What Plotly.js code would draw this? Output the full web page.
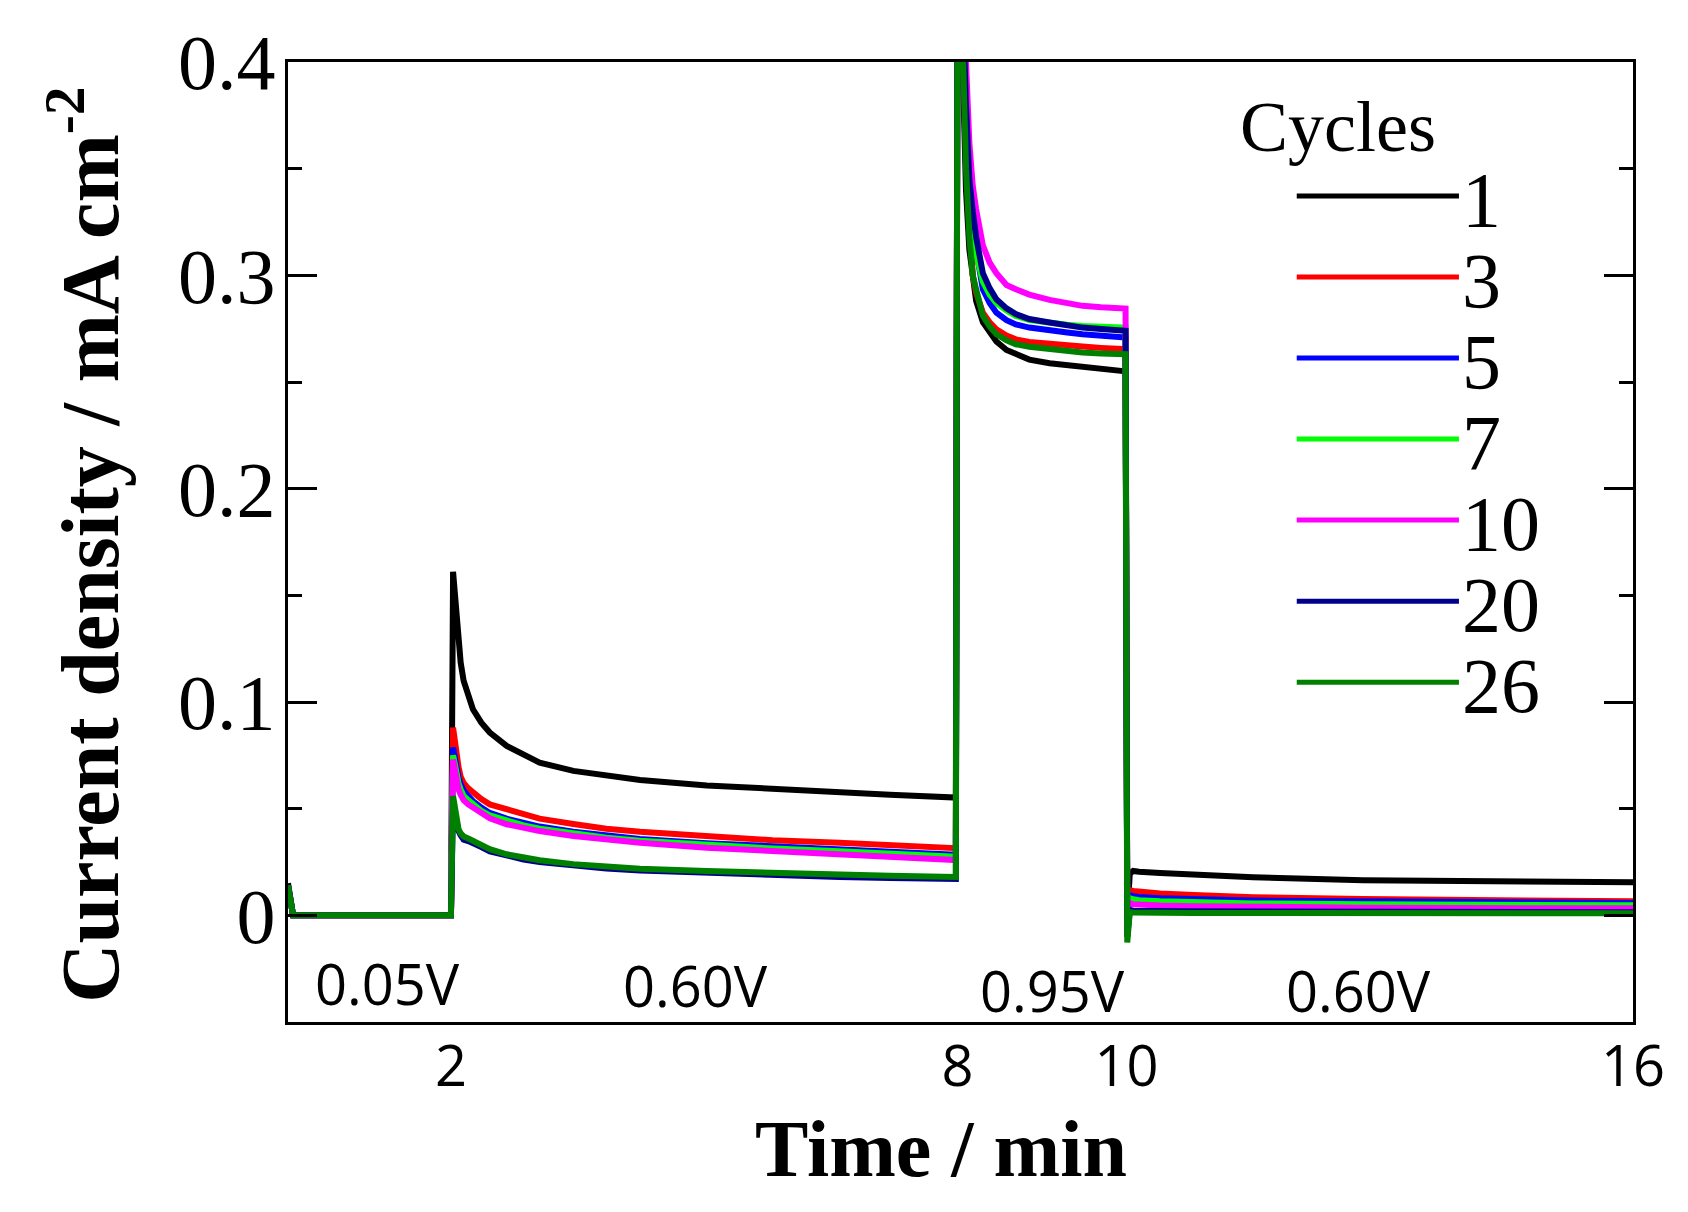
<!DOCTYPE html>
<html>
<head>
<meta charset="utf-8">
<script src="https://cdn.plot.ly/plotly-3.0.1.min.js"></script>
<style>
    html, body { margin: 0; padding: 0; background: #fff; }
    #chart { width: 1688px; height: 1212px; }
</style>
</head>
<body>
<div id="chart"></div>
<script>
// time axis shared by every cycle (min)
const timeMin = [
    0.07, 0.13, 1.0, 1.99,
    2.0, 2.025, 2.065, 2.09, 2.115, 2.15, 2.205, 2.26, 2.36, 2.46, 2.66, 2.86, 3.05, 3.45, 3.84, 4.24, 5.03, 5.81, 6.6, 7.2, 7.98,
    8.0, 8.06, 8.1, 8.14, 8.18, 8.22, 8.3, 8.38, 8.46, 8.58, 8.69, 8.85, 9.09, 9.3, 9.48, 9.7, 9.99,
    10.01, 10.04, 10.08, 10.15, 10.4, 10.8, 11.5, 12.8, 14.0, 15.0, 16.0
];

// current density per cycle (mA cm-2)
const j1 = [
    0.015, 0, 0, 0,
    0, 0.161, 0.140, 0.128, 0.1185, 0.110, 0.1028, 0.0966, 0.0903, 0.0857, 0.0794, 0.075, 0.0716, 0.0677, 0.0653, 0.0634, 0.0609, 0.0591, 0.0575, 0.0565, 0.0552,
    0.46, 0.40, 0.34, 0.312, 0.297, 0.288, 0.278, 0.273, 0.269, 0.265, 0.263, 0.2605, 0.2588, 0.2578, 0.2568, 0.2558, 0.255,
    0.0, 0.0195, 0.0208, 0.0204, 0.0198, 0.019, 0.0178, 0.0165, 0.016, 0.0157, 0.0155
];
const j3 = [
    0.014, 0, 0, 0,
    0, 0.088, 0.075, 0.0695, 0.065, 0.062, 0.0595, 0.0575, 0.0545, 0.052, 0.0497, 0.0473, 0.0453, 0.0428, 0.0406, 0.0392, 0.0372, 0.0352, 0.034, 0.033, 0.0315,
    0.46, 0.42, 0.36, 0.323, 0.30, 0.292, 0.2825, 0.278, 0.2747, 0.2718, 0.270, 0.2688, 0.2677, 0.267, 0.2666, 0.266, 0.2654,
    0.0, 0.0118, 0.0114, 0.011, 0.0102, 0.0095, 0.0085, 0.0076, 0.0071, 0.0068, 0.0066
];
const j5 = [
    0.014, 0, 0, 0,
    0, 0.0786, 0.068, 0.0645, 0.0615, 0.0585, 0.056, 0.0536, 0.0505, 0.048, 0.0453, 0.0432, 0.0416, 0.0392, 0.0372, 0.0358, 0.0338, 0.0322, 0.031, 0.0298, 0.0284,
    0.46, 0.43, 0.38, 0.345, 0.325, 0.312, 0.2935, 0.287, 0.2825, 0.279, 0.277, 0.2755, 0.274, 0.2732, 0.2724, 0.2716, 0.2708,
    0.0, 0.0095, 0.009, 0.0086, 0.008, 0.0075, 0.0069, 0.0066, 0.0062, 0.006, 0.0058
];
const j7 = [
    0.014, 0, 0, 0,
    0, 0.075, 0.066, 0.062, 0.059, 0.056, 0.054, 0.052, 0.049, 0.0468, 0.0442, 0.0422, 0.0406, 0.0383, 0.0364, 0.035, 0.033, 0.0313, 0.030, 0.029, 0.0275,
    0.46, 0.43, 0.38, 0.345, 0.322, 0.310, 0.297, 0.291, 0.287, 0.2835, 0.281, 0.279, 0.2775, 0.2768, 0.2762, 0.2758, 0.2755,
    0.0, 0.008, 0.0075, 0.0071, 0.0066, 0.0062, 0.0056, 0.0052, 0.0049, 0.0048, 0.0047
];
const j10 = [
    0.014, 0, 0, 0,
    0, 0.073, 0.063, 0.059, 0.0565, 0.054, 0.052, 0.0505, 0.0478, 0.0455, 0.0427, 0.041, 0.0395, 0.0372, 0.0353, 0.034, 0.0317, 0.0302, 0.029, 0.0278, 0.0259,
    0.46, 0.44, 0.40, 0.362, 0.342, 0.331, 0.314, 0.306, 0.301, 0.2955, 0.2935, 0.291, 0.2885, 0.287, 0.2857, 0.285, 0.2844,
    0.0, 0.0058, 0.0052, 0.005, 0.0046, 0.0043, 0.0039, 0.0036, 0.0034, 0.0033, 0.0033
];
const j20 = [
    0.014, 0, 0, 0,
    0, 0.052, 0.043, 0.0395, 0.0375, 0.0355, 0.0348, 0.034, 0.032, 0.030, 0.0278, 0.0262, 0.025, 0.0232, 0.022, 0.021, 0.0198, 0.0188, 0.018, 0.0175, 0.017,
    0.46, 0.43, 0.38, 0.345, 0.33, 0.318, 0.301, 0.294, 0.2888, 0.2845, 0.2818, 0.2795, 0.2779, 0.2765, 0.2755, 0.2748, 0.274,
    -0.01, 0.0025, 0.0022, 0.0021, 0.002, 0.0019, 0.0018, 0.0017, 0.0016, 0.0016, 0.0015
];
const j26 = [
    0.014, 0, 0, 0,
    0, 0.0559, 0.045, 0.0403, 0.0385, 0.037, 0.036, 0.0348, 0.033, 0.031, 0.0286, 0.027, 0.0258, 0.024, 0.0228, 0.0218, 0.0208, 0.0198, 0.019, 0.0185, 0.018,
    0.46, 0.41, 0.35, 0.318, 0.300, 0.2935, 0.281, 0.276, 0.2724, 0.2695, 0.2677, 0.2665, 0.2654, 0.2645, 0.2638, 0.2634, 0.263,
    -0.0127, 0.0015, 0.0013, 0.0012, 0.0012, 0.0011, 0.0011, 0.001, 0.001, 0.001, 0.001
];

const cycleLabels = ['1', '3', '5', '7', '10', '20', '26'];
const cycleCurrents = [j1, j3, j5, j7, j10, j20, j26];
const lineColors = ['#000000', '#ff0000', '#0000ff', '#00ff00', '#ff00ff', '#00008b', '#008000'];

// potential steps written under the curves
const stepLabels = ['0.05V', '0.60V', '0.95V', '0.60V'];
const stepLabelX = [1.25, 4.90, 9.13, 12.75];
const stepLabelY = [-0.0315, -0.0325, -0.035, -0.035];

const xTickVals = [2, 8, 10, 16];
const yTickVals = [0, 0.1, 0.2, 0.3, 0.4];

function plotChart() {
    let chartData = cycleCurrents.map((ys, i) => {
        return {
            mode: 'lines',
            x: timeMin,
            y: ys,
            name: cycleLabels[i],
            line: { color: lineColors[i], width: 6 },
            showlegend: false,
        };
    });

    // hand made legend: long sample lines plus labels
    let shapes = [];
    let annotations = [];
    const legendTop = 0.8604;
    const legendStep = 0.0844;
    cycleLabels.forEach((label, i) => {
        const yy = legendTop - i * legendStep;
        shapes.push({
            type: 'line', xref: 'paper', yref: 'paper',
            x0: 0.750, x1: 0.8706, y0: yy, y1: yy,
            line: { color: lineColors[i], width: 5 },
        });
        annotations.push({
            xref: 'paper', yref: 'paper', x: 0.8715, y: yy - 0.004,
            xanchor: 'left', yanchor: 'middle', showarrow: false,
            text: label,
            font: { family: 'Liberation Serif', size: 78, color: '#000' },
        });
    });

    annotations.push({
        xref: 'paper', yref: 'paper', x: 0.7065, y: 0.932,
        xanchor: 'left', yanchor: 'middle', showarrow: false,
        text: 'Cycles',
        font: { family: 'Liberation Serif', size: 72, color: '#000' },
    });

    stepLabels.forEach((label, i) => {
        annotations.push({
            xref: 'x', yref: 'y', x: stepLabelX[i], y: stepLabelY[i],
            xanchor: 'center', yanchor: 'middle', showarrow: false,
            text: label,
            font: { family: 'Open Sans', size: 56, color: '#000' },
        });
    });

    // axis titles as annotations so they sit where the original has them
    annotations.push({
        xref: 'paper', yref: 'paper', x: 0.4855, y: -0.1327,
        xanchor: 'center', yanchor: 'middle', showarrow: false,
        text: '<b>Time / min</b>',
        font: { family: 'Liberation Serif', size: 80, color: '#000' },
    });
    annotations.push({
        xref: 'paper', yref: 'paper', x: -0.151, y: 0.497,
        xanchor: 'center', yanchor: 'middle', showarrow: false, textangle: -90,
        text: '<b>Current density / mA cm<sup>-2</sup></b>',
        font: { family: 'Liberation Serif', size: 82, color: '#000' },
    });

    const layout = {
        width: 1688,
        height: 1212,
        margin: { l: 288, r: 55, t: 62, b: 190 },
        paper_bgcolor: '#fff',
        plot_bgcolor: '#fff',
        showlegend: false,
        xaxis: {
            range: [0.07, 16],
            tickvals: xTickVals,
            ticks: '',
            ticklabelstandoff: -6,
            showline: true,
            mirror: true,
            linecolor: '#000',
            linewidth: 3,
            showgrid: false,
            zeroline: false,
            tickfont: { family: 'Open Sans', size: 56, color: '#000' },
        },
        yaxis: {
            range: [-0.05, 0.4],
            tickvals: yTickVals,
            ticks: 'inside',
            ticklen: 29,
            tickwidth: 3,
            tickcolor: '#000',
            ticklabelstandoff: -6,
            minor: { dtick: 0.05, ticks: 'inside', ticklen: 14, tickwidth: 3, tickcolor: '#000' },
            showline: true,
            mirror: 'ticks',
            linecolor: '#000',
            linewidth: 3,
            showgrid: false,
            zeroline: false,
            tickfont: { family: 'Liberation Serif', size: 78, color: '#000' },
        },
        shapes: shapes,
        annotations: annotations,
    };

    Plotly.newPlot('chart', chartData, layout, { staticPlot: true });
}

plotChart();
</script>
</body>
</html>
